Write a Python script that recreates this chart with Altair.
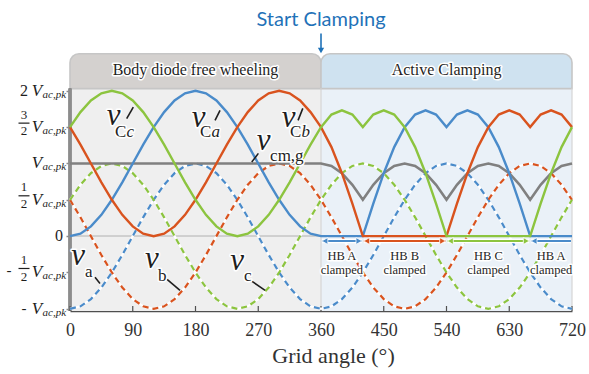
import altair as alt
import pandas as pd

SERIF = "Liberation Serif"
SANS = "Lato"

BLUE = "#4a8bca"
RED = "#d9531e"
GREEN = "#8cc43f"
GRAY = "#808080"
INK = "#1e1e1e"

# ---------------------------------------------------------------- data
angle_step = 15
angles = list(range(0, 721, angle_step))

# per-unit phase voltages over one grid period (0..345 deg, every 15 deg)
va_cycle = [-1.0, -0.966, -0.866, -0.707, -0.5, -0.259, 0.0, 0.259, 0.5, 0.707, 0.866, 0.966,
            1.0, 0.966, 0.866, 0.707, 0.5, 0.259, 0.0, -0.259, -0.5, -0.707, -0.866, -0.966]
vb_cycle = [0.5, 0.259, 0.0, -0.259, -0.5, -0.707, -0.866, -0.966, -1.0, -0.966, -0.866, -0.707,
            -0.5, -0.259, 0.0, 0.259, 0.5, 0.707, 0.866, 0.966, 1.0, 0.966, 0.866, 0.707]
vc_cycle = [0.5, 0.707, 0.866, 0.966, 1.0, 0.966, 0.866, 0.707, 0.5, 0.259, 0.0, -0.259,
            -0.5, -0.707, -0.866, -0.966, -1.0, -0.966, -0.866, -0.707, -0.5, -0.259, 0.0, 0.259]

# common-mode voltage v_cm,g: flat while free wheeling, then it lifts the lowest phase to zero
vcm_free_wheeling = [1.0] * 24
vcm_active_clamping = [1.0, 0.966, 0.866, 0.707, 0.5, 0.707, 0.866, 0.966] * 3 + [1.0]

phase_names = ["a", "b", "c"]
phase_colors = [BLUE, RED, GREEN]

# operating regions along the grid angle
region_start = [0, 360]
region_end = [360, 720]
region_titles = ["Body diode free wheeling", "Active Clamping"]
region_body = ["#efefef", "#eaf1f8"]
region_head = ["#d4d1cf", "#cfe2f0"]

# clamped half-bridge intervals
clamp_start = [360, 420, 540, 660]
clamp_end = [420, 540, 660, 720]
clamp_names = ["HB A\nclamped", "HB B\nclamped", "HB C\nclamped", "HB A\nclamped"]
clamp_colors = [BLUE, RED, GREEN, BLUE]

x_ticks = [0, 90, 180, 270, 360, 450, 540, 630, 720]
y_ticks = [2, 1.5, 1, 0.5, 0, -0.5, -1]

Y_MIN, Y_MAX, HEAD_BOTTOM = -1.03, 2.52, 2.03

# ---------------------------------------------------------------- tables
va = va_cycle * 2 + va_cycle[:1]
vb = vb_cycle * 2 + vb_cycle[:1]
vc = vc_cycle * 2 + vc_cycle[:1]
vcm = vcm_free_wheeling + vcm_active_clamping

phase_rows, cap_rows = [], []
for name, vals in zip(phase_names, [va, vb, vc]):
    for ang, v, cm in zip(angles, vals, vcm):
        phase_rows.append({"angle": ang, "series": name, "value": v})
        # clamp capacitor voltage = phase voltage + common-mode offset
        cap_rows.append({"angle": ang, "series": name, "value": round(v + cm, 3)})
df_phase = pd.DataFrame(phase_rows)
df_cap = pd.DataFrame(cap_rows)
df_cm = pd.DataFrame({"angle": angles, "value": vcm})

df_regions = pd.DataFrame({"start": region_start, "end": region_end, "title": region_titles,
                           "body": region_body, "head": region_head})
df_regions["mid"] = (df_regions["start"] + df_regions["end"]) / 2

df_clamp = pd.DataFrame({"start": clamp_start, "end": clamp_end, "name": clamp_names,
                         "color": clamp_colors})
df_clamp["mid"] = (df_clamp["start"] + df_clamp["end"]) / 2
df_clamp["a0"] = df_clamp["start"] + 1.5
df_clamp["a1"] = df_clamp["end"] - 1.5
df_clamp["h0"] = df_clamp["start"] + 5.5
df_clamp["h1"] = df_clamp["end"] - 5.5
ARROW_Y = -0.067

df_xt = pd.DataFrame({"tick": x_ticks})

# curve labels: main symbol, subscript (upright part + italic part) and leader line
curve_labels = pd.DataFrame({
    "vx": [62.4, 184.4, 313.5, 277.6, 11.5, 117.6, 239.6],
    "vy": [1.524, 1.497, 1.497, 1.18, -0.40, -0.44, -0.47],
    "sx": [64.6, 186.5, 315.6, 287.0, 21.5, 126.3, 249.6],
    "sy": [1.36, 1.36, 1.36, 1.04, -0.567, -0.622, -0.622],
    "roman": ["C", "C", "C", "cm,g", "a", "b", "c"],
    "italic": ["c", "a", "b", "", "", "", ""],
    "lx": [81.3, 208.0, 327.1, 260.7, 35.9, 139.2, 261.1],
    "ly": [1.616, 1.593, 1.593, 1.019, -0.567, -0.594, -0.622],
    "lx2": [90.8, 215.2, 333.9, 270.2, 43.0, 157.8, 279.8],
    "ly2": [1.776, 1.730, 1.758, 1.139, -0.650, -0.746, -0.746],
})
curve_labels["v"] = "v"

# y tick label pieces
df_y = pd.DataFrame({
    "value": y_ticks,
    "whole": ["2", "", "", "", "", "", ""],
    "num": ["", "3", "", "1", "", "1", ""],
    "sign": ["", "", "", "", "", "-", "-"],
    "vpk": [True, True, True, True, False, True, True],
})
df_y["den"] = df_y["num"].where(df_y["num"] == "", "2")

# ---------------------------------------------------------------- encodings
xs = alt.Scale(domain=[0, 720], nice=False, zero=False)
ys = alt.Scale(domain=[Y_MIN, Y_MAX], nice=False, zero=False)

x_axis = alt.Axis(values=x_ticks, ticks=False, grid=False, domainColor="#4f4f4f",
                  domainWidth=1.5, labelFont=SERIF, labelFontSize=18, labelColor="#333333",
                  labelPadding=10, labelFlush=False, title="Grid angle (°)", titleFont=SERIF,
                  titleFontSize=22, titleFontWeight="normal", titleColor="#333333",
                  titlePadding=6, titleX=263, titleAlign="center")
y_axis = alt.Axis(values=y_ticks, labels=False, domain=False, grid=False, ticks=True,
                  tickSize=4, tickColor="#8c8c8c", tickWidth=1.5, title=None)


def X(field):
    return alt.X(field, type="quantitative", scale=xs, axis=x_axis)


def Y(field):
    return alt.Y(field, type="quantitative", scale=ys, axis=y_axis)


def XD(v):
    return alt.XDatum(v, scale=xs, axis=x_axis)


def YD(v):
    return alt.YDatum(v, scale=ys, axis=y_axis)


def halo_text(chart_base, enc, **kw):
    back = chart_base.mark_text(stroke="white", strokeWidth=3, strokeJoin="round",
                                color="white", **kw).encode(**enc)
    front = chart_base.mark_text(color=INK, **kw).encode(**enc)
    return [back, front]


layers = []

# region backgrounds and headers
reg = alt.Chart(df_regions)
layers.append(reg.mark_rect().encode(x=X("start"), x2="end", y=YD(Y_MIN),
                                     y2=alt.Y2Datum(HEAD_BOTTOM),
                                     color=alt.Color("body:N", scale=None)))
layers.append(reg.mark_rect(cornerRadiusTopLeft=9, cornerRadiusTopRight=9, stroke="#c6c6c6",
                            strokeWidth=1.6)
              .encode(x=X("start"), x2="end", y=YD(HEAD_BOTTOM), y2=alt.Y2Datum(Y_MAX - 0.01),
                      color=alt.Color("head:N", scale=None)))

# frame lines
layers.append(reg.mark_rule(color="#d6d6d6", strokeWidth=1.2)
              .encode(x=X("end"), y=YD(Y_MIN), y2=alt.Y2Datum(HEAD_BOTTOM)))
layers.append(alt.Chart(df_xt).mark_rule(color="#cfcfcf", strokeWidth=1.2)
              .encode(x=XD(0), x2=alt.X2Datum(720), y=YD(0)))
layers.append(alt.Chart(df_xt).mark_rule(color="#8c8c8c", strokeWidth=2.5)
              .encode(x=XD(0), y=YD(Y_MIN), y2=alt.Y2Datum(HEAD_BOTTOM)))
layers.append(alt.Chart(df_xt).mark_rule(color="#4f4f4f", strokeWidth=1.2)
              .encode(x=X("tick"), y=alt.value(258), y2=alt.value(253)))

# phase voltages (dashed)
color_phase = alt.Color("series:N", scale=alt.Scale(domain=phase_names, range=phase_colors),
                        legend=None)
ph = alt.Chart(df_phase)
layers.append(ph.mark_line(color="white", strokeWidth=2.2)
              .encode(x=X("angle"), y=Y("value"), detail="series:N"))
layers.append(ph.mark_line(strokeWidth=2.2, strokeDash=[6, 4])
              .encode(x=X("angle"), y=Y("value"), color=color_phase))

# common-mode voltage
layers.append(alt.Chart(df_cm).mark_line(color=GRAY, strokeWidth=2.6)
              .encode(x=X("angle"), y=Y("value")))

# clamp capacitor voltages (solid)
layers.append(alt.Chart(df_cap).mark_line(strokeWidth=2.4)
              .encode(x=X("angle"), y=Y("value"), color=color_phase))

# clamped-interval arrows
cl = alt.Chart(df_clamp)
layers.append(cl.mark_rule(color="white", strokeWidth=4.5)
              .encode(x=X("a0"), x2="a1", y=YD(ARROW_Y)))
layers.append(cl.mark_rule(strokeWidth=2)
              .encode(x=X("a0"), x2="a1", y=YD(ARROW_Y), color=alt.Color("color:N", scale=None)))
layers.append(cl.mark_point(shape="triangle-left", filled=True, size=48, opacity=1,
                            stroke="white", strokeWidth=0.8)
              .encode(x=X("h0"), y=YD(ARROW_Y), fill=alt.Color("color:N", scale=None)))
layers.append(cl.transform_filter(alt.datum.end < 720)
              .mark_point(shape="triangle-right", filled=True, size=48, opacity=1,
                          stroke="white", strokeWidth=0.8)
              .encode(x=X("h1"), y=YD(ARROW_Y), fill=alt.Color("color:N", scale=None)))
layers += halo_text(cl, dict(x=X("mid"), y=YD(-0.333), text="name:N"),
                    font=SERIF, fontSize=12.5, align="center", baseline="alphabetic",
                    lineBreak="\n", lineHeight=13.7)

# region titles
layers += halo_text(reg, dict(x=X("mid"), y=YD(2.212), text="title:N"),
                    font=SERIF, fontSize=16, align="center", baseline="alphabetic")

# curve labels
lab = alt.Chart(curve_labels)
layers.append(lab.mark_rule(color=INK, strokeWidth=1.6)
              .encode(x=X("lx"), x2="lx2", y=Y("ly"), y2="ly2"))
layers += halo_text(lab, dict(x=X("vx"), y=Y("vy"), text="v:N"),
                    font=SERIF, fontSize=31, fontStyle="italic", align="center",
                    baseline="alphabetic")
layers += halo_text(lab, dict(x=X("sx"), y=Y("sy"), text="roman:N"),
                    font=SERIF, fontSize=17, align="left", baseline="alphabetic")
layers += halo_text(lab, dict(x=X("sx"), y=Y("sy"), text="italic:N"),
                    font=SERIF, fontSize=17, fontStyle="italic", align="left",
                    baseline="alphabetic", dx=11.5)

# y tick labels (stacked fractions and V_ac,pk)
yl = alt.Chart(df_y)
yv = yl.transform_filter(alt.datum.vpk)
layers.append(yv.mark_text(font=SERIF, fontSize=17, fontStyle="italic", align="center",
                           baseline="alphabetic", color=INK, dy=5)
              .encode(x=alt.value(-33), y=Y("value"), text=alt.value("V")))
layers.append(yv.mark_text(font=SERIF, fontSize=11, fontStyle="italic", align="left",
                           baseline="alphabetic", color=INK, dy=7)
              .encode(x=alt.value(-27.5), y=Y("value"), text=alt.value("ac,pk")))
layers.append(yl.mark_text(font=SERIF, fontSize=16, align="center", baseline="alphabetic",
                           color=INK, dy=5)
              .encode(x=alt.value(-46), y=Y("value"), text="whole:N"))
layers.append(yl.transform_filter(alt.datum.value == 0)
              .mark_text(font=SERIF, fontSize=16, align="right", baseline="middle", color=INK)
              .encode(x=alt.value(-7), y=Y("value"), text=alt.value("0")))
layers.append(yl.mark_text(font=SERIF, fontSize=13, align="center", baseline="alphabetic",
                           color=INK, dy=-8.4)
              .encode(x=alt.value(-46), y=Y("value"), text="num:N"))
layers.append(yl.mark_text(font=SERIF, fontSize=13, align="center", baseline="alphabetic",
                           color=INK, dy=8.3)
              .encode(x=alt.value(-46), y=Y("value"), text="den:N"))
layers.append(yl.transform_filter(alt.datum.num != "")
              .mark_rule(color=INK, strokeWidth=1.2, yOffset=-4)
              .encode(x=alt.value(-51.5), x2=alt.value(-40.5), y=Y("value")))
layers.append(yl.transform_filter(alt.datum.value == -0.5)
              .mark_text(font=SERIF, fontSize=15, align="center", baseline="middle", color=INK,
                         dy=-2)
              .encode(x=alt.value(-61), y=Y("value"), text="sign:N"))
layers.append(yl.transform_filter(alt.datum.value == -1)
              .mark_text(font=SERIF, fontSize=15, align="center", baseline="middle", color=INK,
                         dy=-1)
              .encode(x=alt.value(-46), y=Y("value"), text="sign:N"))

# start-of-clamping marker
mk = alt.Chart(df_regions).transform_filter(alt.datum.start == 360)
layers.append(mk.mark_text(font=SANS, fontSize=20, align="center", baseline="alphabetic",
                           color="#1f72b8")
              .encode(x=X("start"), y=YD(2.885), text=alt.value("Start Clamping")))
layers.append(mk.mark_rule(color="#1f72b8", strokeWidth=1.6)
              .encode(x=X("start"), y=YD(2.79), y2=alt.Y2Datum(2.57)))
layers.append(mk.mark_point(shape="triangle-down", filled=True, size=40, opacity=1,
                            color="#1f72b8")
              .encode(x=X("start"), y=YD(2.555)))

chart = (
    alt.layer(*layers)
    .properties(width=502, height=258, autosize="none",
                padding={"left": 70, "top": 53, "right": 17, "bottom": 63},
                background="white")
    .configure_view(stroke=None)
)

chart.save("out.html", embed_options={"renderer": "svg", "actions": False})
